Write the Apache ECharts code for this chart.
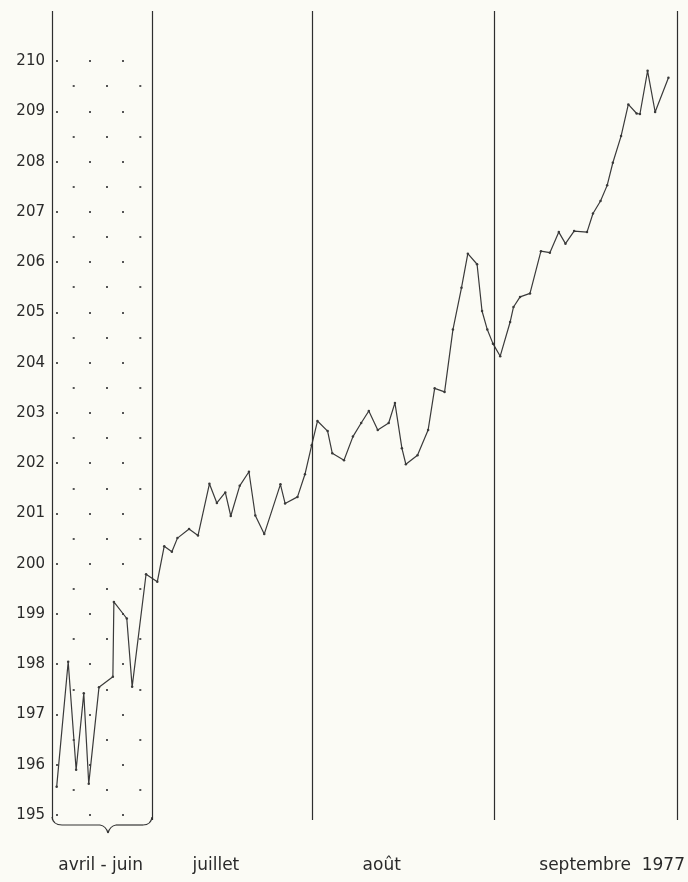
<!DOCTYPE html>
<html>
<head>
<meta charset="utf-8">
<script src="https://cdn.jsdelivr.net/npm/echarts@6/dist/echarts.min.js"></script>
<style>
    html, body { margin: 0; padding: 0; background: #fbfbf5; }
    #chart { width: 688px; height: 882px; }
</style>
</head>
<body>
<div id="chart"></div>
<script>
// position along the time axis (avril-juin squeezed into the first panel)
const pos = [
    4.7, 16.3, 24.3, 32, 37, 47.3, 61.3, 62.3, 75.3, 80.7, 94.7,
    106, 113, 120.7, 126.3, 138, 147, 158.5, 166, 174.5, 180, 189, 198.3, 204.7, 213.7,
    230, 234.7, 247.2, 254.7, 261.5,
    267.3, 277.5, 282.2, 294, 303, 311.3, 319, 328, 339, 345.3, 352.3, 356.3, 368,
    378.7, 385.3, 395.3, 403.7, 412.3, 418.7, 428, 433, 438.3, 444,
    451.3, 461.3, 464.7, 471.3, 481.3, 492.3, 501.3, 510.3, 517, 525.7, 538.7,
    544.7, 552.3, 559, 564.7, 573, 580.3, 588.7, 592, 599.7, 607.3, 620.7,
]
const indice = [
    195.56, 198.05, 195.90, 197.42, 195.62, 197.54, 197.75, 199.24, 198.91, 197.55, 199.79,
    199.64, 200.35, 200.24, 200.51, 200.69, 200.56, 201.59, 201.21, 201.42, 200.95, 201.55, 201.83, 200.96, 200.59,
    201.58, 201.20, 201.33, 201.78, 202.36,
    202.84, 202.64, 202.20, 202.06, 202.53, 202.80, 203.04, 202.66, 202.80, 203.20, 202.30, 201.98, 202.16,
    202.66, 203.49, 203.42, 204.66, 205.49, 206.17, 205.96, 205.03, 204.66, 204.38,
    204.13, 204.81, 205.11, 205.31, 205.38, 206.22, 206.19, 206.60, 206.37, 206.62, 206.60,
    206.97, 207.22, 207.53, 207.98, 208.51, 209.14, 208.96, 208.95, 209.81, 208.99, 209.67,
]
const monthBounds = [0, 101, 262, 445, 630]
const monthNames = ['avril - juin', 'juillet', 'août', 'septembre  1977']
const monthLabelPos = [49, 165, 332, 564]
const yTicks = [195, 196, 197, 198, 199, 200, 201, 202, 203, 204, 205, 206, 207, 208, 209, 210]

const ink = '#3a3a3a'

const chartInstance = echarts.init(document.getElementById('chart'))

const hiddenAxis = {
    axisLine: { show: false },
    axisTick: { show: false },
    axisLabel: { show: false },
}

// curly brace under the avril-juin panel
const braceStyle = { fill: 'none', stroke: '#333', lineWidth: 1.2 }
const brace = [
    { type: 'bezierCurve', shape: { x1: 52, y1: 817, cpx1: 53, cpy1: 825, x2: 62, y2: 825 } },
    { type: 'line', shape: { x1: 62, y1: 825, x2: 100, y2: 825 } },
    { type: 'bezierCurve', shape: { x1: 100, y1: 825, cpx1: 106, cpy1: 826, x2: 108, y2: 833 } },
    { type: 'bezierCurve', shape: { x1: 108, y1: 833, cpx1: 110, cpy1: 826, x2: 116, y2: 825 } },
    { type: 'line', shape: { x1: 116, y1: 825, x2: 143, y2: 825 } },
    { type: 'bezierCurve', shape: { x1: 143, y1: 825, cpx1: 151, cpy1: 825, x2: 152, y2: 817 } },
].map((el) => ({ ...el, silent: true, style: braceStyle }))

const options = {
    backgroundColor: '#fbfbf5',
    animation: false,
    grid: [
        { left: 52, right: 6, top: 11, bottom: 62 },
        // dotted pattern of the first panel: whole units, then half units
        { left: 52, width: 100, top: 61, height: 754 },
        { left: 52, width: 100, top: 86, height: 704 },
    ],
    xAxis: [
        {
            gridIndex: 0,
            type: 'value',
            min: 0,
            max: 630,
            axisLine: { show: false },
            axisTick: { show: false },
            splitLine: { show: false },
            axisLabel: {
                customValues: monthLabelPos,
                formatter: (v) => monthNames[monthLabelPos.indexOf(v)],
                margin: 37,
                fontSize: 17,
                color: '#2a2a2a',
                fontFamily: 'DejaVu Sans',
            },
        },
        { gridIndex: 1, type: 'value', min: 0, max: 1, show: false },
        { gridIndex: 2, type: 'value', min: 0, max: 1, show: false },
    ],
    yAxis: [
        {
            gridIndex: 0,
            type: 'value',
            min: 194.9,
            max: 211,
            axisLine: { show: false },
            axisTick: { show: false },
            splitLine: { show: false },
            axisLabel: {
                customValues: yTicks,
                margin: 7,
                fontSize: 15,
                color: '#2a2a2a',
                fontFamily: 'DejaVu Sans',
            },
        },
        {
            gridIndex: 1,
            type: 'value',
            min: 195,
            max: 210,
            interval: 1,
            ...hiddenAxis,
            splitLine: {
                show: true,
                lineStyle: { color: '#555', width: 2.2, type: [2, 31], dashOffset: 29 },
            },
        },
        {
            gridIndex: 2,
            type: 'value',
            min: 195.5,
            max: 209.5,
            interval: 1,
            ...hiddenAxis,
            splitLine: {
                show: true,
                lineStyle: { color: '#555', width: 2.2, type: [2, 31.3], dashOffset: 12.6 },
            },
        },
    ],
    graphic: brace,
    series: [
        {
            type: 'line',
            xAxisIndex: 0,
            yAxisIndex: 0,
            data: pos.map((p, i) => [p, indice[i]]),
            symbol: 'circle',
            symbolSize: 2.5,
            showSymbol: true,
            silent: true,
            clip: false,
            lineStyle: { color: ink, width: 1.2 },
            itemStyle: { color: ink },
            markLine: {
                silent: true,
                symbol: ['none', 'none'],
                label: { show: false },
                lineStyle: { color: '#2e2e2e', width: 1.2, type: 'solid' },
                data: monthBounds.map((b) => ({ xAxis: b })),
            },
        },
        { type: 'line', xAxisIndex: 1, yAxisIndex: 1, data: [] },
        { type: 'line', xAxisIndex: 2, yAxisIndex: 2, data: [] },
    ],
}

chartInstance.setOption(options)
</script>
</body>
</html>
